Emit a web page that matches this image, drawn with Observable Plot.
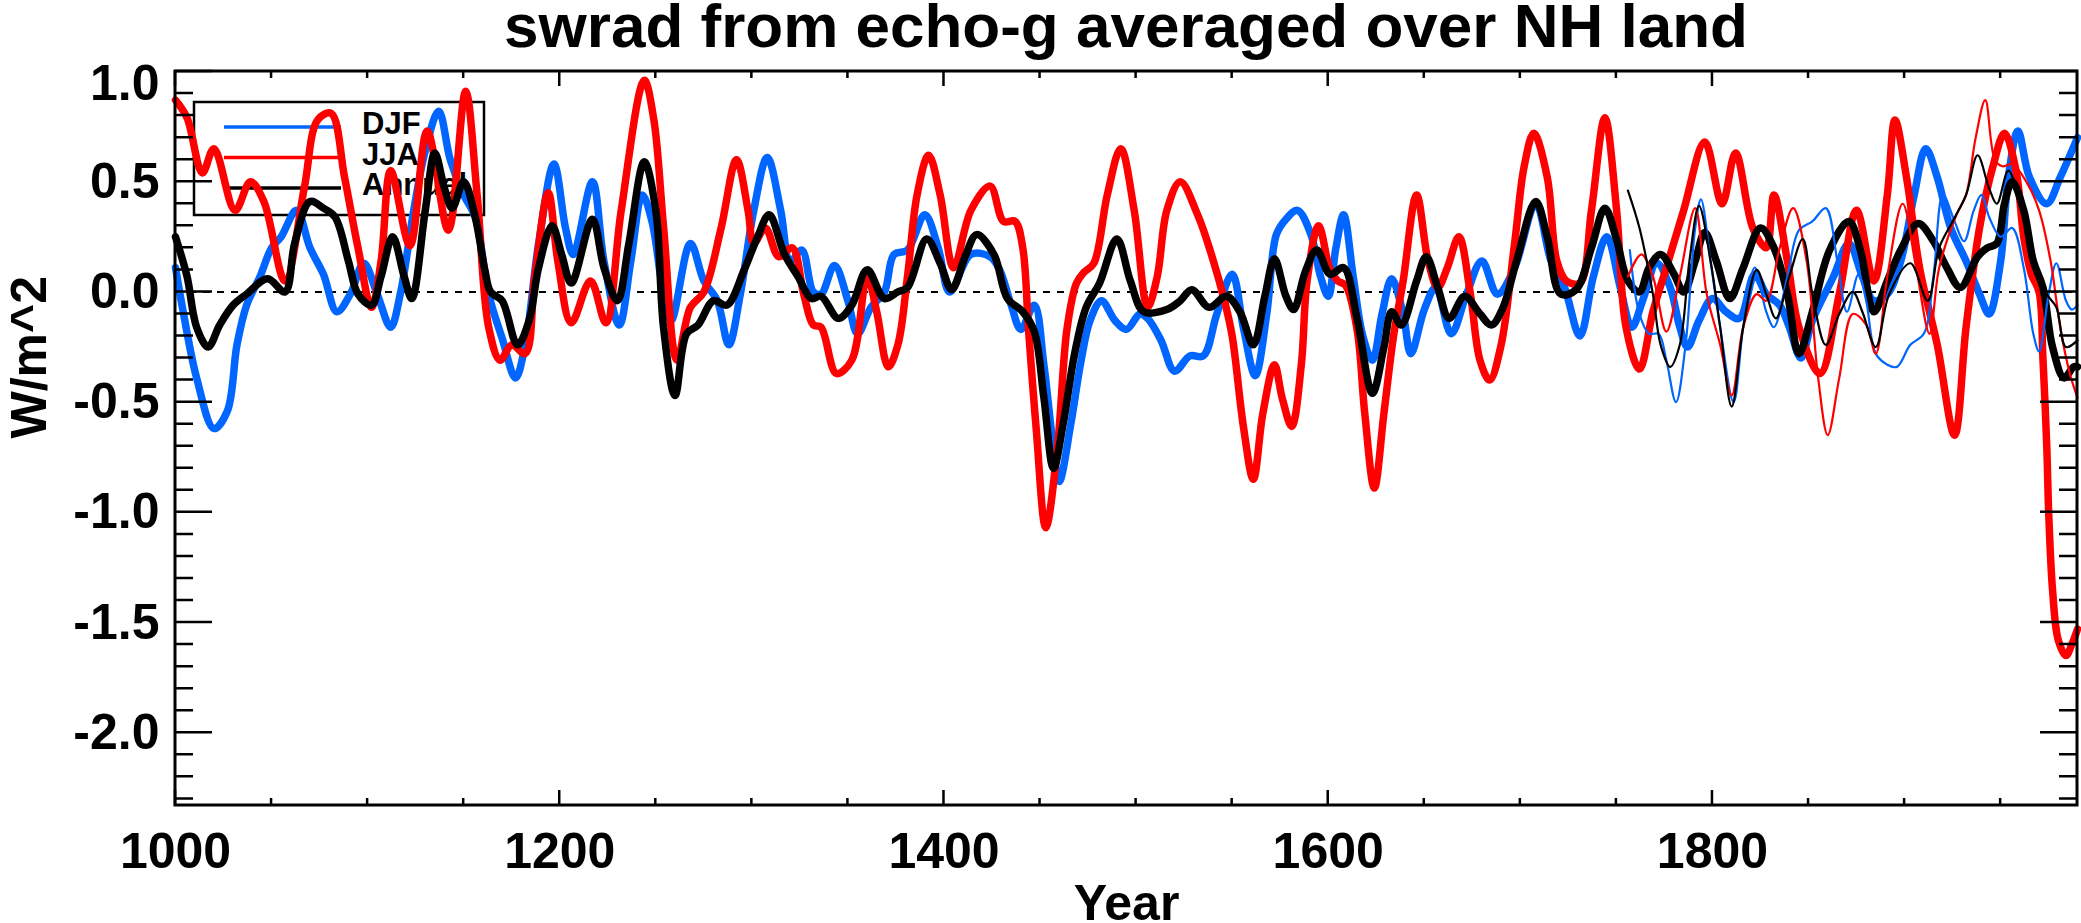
<!DOCTYPE html>
<html>
<head>
<meta charset="utf-8">
<script src="https://cdn.jsdelivr.net/npm/d3@7"></script>
<script src="https://cdn.jsdelivr.net/npm/@observablehq/plot@0.6"></script>
<style>
  html, body { margin: 0; padding: 0; background: #fff; }
  #wrap { width: 2081px; height: 923px; overflow: hidden; position: relative; }
  #title { height: 64px; width: 2081px; box-sizing: border-box; padding-left: 175px; padding-right: 4px; }
  #title span { display: block; position: relative; top: -5px; text-align: center;
    font: bold 62px "Liberation Sans", Arial, sans-serif; line-height: 62px; color: #000; white-space: nowrap; }
</style>
</head>
<body>
<div id="wrap">
  <div id="title"><span>swrad from echo-g averaged over NH land</span></div>
  <div id="chart"></div>
</div>
<script>
// ---- data: [year, value] ----
const djf = [[1000,0.11],[1004,-0.09],[1011,-0.39],[1020,-0.62],[1027,-0.54],[1032,-0.24],[1037,-0.06],[1044,0.07],[1050,0.20],[1055,0.25],[1063,0.37],[1070,0.20],[1077,0.08],[1084,-0.09],[1091,-0.01],[1098,0.13],[1105,-0.01],[1112,-0.16],[1117,-0.01],[1124,0.37],[1130,0.64],[1137,0.82],[1143,0.60],[1150,0.44],[1156,0.34],[1163,-0.01],[1170,-0.21],[1177,-0.39],[1182,-0.24],[1189,0.22],[1197,0.58],[1203,0.29],[1207,0.17],[1217,0.50],[1223,0.14],[1231,-0.15],[1237,0.14],[1243,0.44],[1248,0.32],[1254,-0.01],[1258,-0.13],[1268,0.22],[1275,0.05],[1282,-0.04],[1288,-0.24],[1294,-0.01],[1301,0.37],[1308,0.61],[1315,0.37],[1320,0.14],[1326,0.19],[1332,0.00],[1336,-0.01],[1343,0.12],[1350,-0.04],[1355,-0.19],[1362,-0.07],[1369,0.00],[1374,0.17],[1381,0.19],[1390,0.35],[1397,0.20],[1403,0.00],[1414,0.17],[1424,0.16],[1429,0.10],[1435,-0.06],[1440,-0.17],[1447,-0.06],[1452,-0.33],[1457,-0.71],[1460,-0.86],[1466,-0.60],[1471,-0.33],[1476,-0.13],[1482,-0.04],[1489,-0.13],[1495,-0.17],[1502,-0.10],[1506,-0.12],[1513,-0.22],[1520,-0.36],[1528,-0.29],[1535,-0.29],[1542,-0.10],[1550,0.08],[1556,-0.17],[1562,-0.38],[1568,-0.10],[1573,0.26],[1578,0.33],[1584,0.37],[1591,0.26],[1596,0.07],[1600,-0.02],[1604,0.20],[1608,0.35],[1613,0.07],[1618,-0.20],[1623,-0.31],[1628,-0.10],[1633,0.06],[1639,-0.10],[1643,-0.28],[1650,-0.08],[1656,0.02],[1664,-0.19],[1672,-0.01],[1680,0.14],[1688,-0.01],[1697,0.11],[1708,0.40],[1716,0.14],[1723,0.02],[1731,-0.20],[1738,0.07],[1745,0.25],[1752,0.02],[1758,-0.16],[1764,-0.03],[1771,0.13],[1778,0.02],[1783,-0.16],[1787,-0.25],[1793,-0.13],[1800,-0.03],[1807,-0.09],[1814,-0.12],[1822,0.08],[1828,-0.01],[1835,-0.06],[1840,-0.16],[1846,-0.30],[1852,-0.13],[1863,0.07],[1871,0.22],[1878,0.07],[1884,-0.04],[1891,-0.01],[1898,0.14],[1905,0.44],[1911,0.65],[1917,0.52],[1924,0.29],[1932,0.14],[1939,-0.01],[1944,-0.10],[1950,0.14],[1954,0.52],[1959,0.73],[1965,0.52],[1974,0.40],[1981,0.52],[1990,0.70]];

const jja = [[1000,0.87],[1006,0.79],[1014,0.54],[1020,0.65],[1031,0.37],[1039,0.50],[1046,0.41],[1057,0.05],[1067,0.47],[1074,0.78],[1081,0.81],[1088,0.52],[1095,0.20],[1102,-0.07],[1107,0.14],[1112,0.55],[1122,0.21],[1131,0.73],[1142,0.28],[1151,0.91],[1157,0.44],[1163,-0.16],[1169,-0.31],[1175,-0.24],[1182,-0.28],[1187,0.07],[1194,0.45],[1199,0.14],[1206,-0.14],[1216,0.05],[1224,-0.14],[1232,0.37],[1244,0.96],[1249,0.78],[1254,0.30],[1261,-0.31],[1268,-0.07],[1275,0.00],[1284,0.29],[1292,0.60],[1298,0.37],[1301,0.22],[1307,0.29],[1314,0.16],[1321,0.20],[1327,-0.01],[1332,-0.15],[1336,-0.16],[1344,-0.37],[1352,-0.31],[1360,0.07],[1365,-0.09],[1371,-0.34],[1376,-0.24],[1381,0.07],[1386,0.44],[1392,0.62],[1398,0.44],[1405,0.11],[1414,0.37],[1424,0.48],[1431,0.32],[1437,0.32],[1441,0.20],[1444,-0.17],[1448,-0.62],[1453,-1.07],[1459,-0.71],[1464,-0.17],[1469,0.04],[1473,0.09],[1478,0.13],[1485,0.44],[1492,0.65],[1499,0.37],[1506,-0.07],[1511,0.07],[1516,0.37],[1523,0.50],[1532,0.35],[1537,0.23],[1546,-0.04],[1550,-0.20],[1556,-0.62],[1561,-0.85],[1566,-0.55],[1572,-0.33],[1576,-0.48],[1581,-0.61],[1586,-0.33],[1589,0.05],[1595,0.30],[1601,0.10],[1605,0.05],[1609,0.03],[1615,-0.17],[1619,-0.55],[1624,-0.89],[1629,-0.55],[1634,-0.20],[1639,0.05],[1646,0.44],[1652,0.14],[1657,0.02],[1662,0.11],[1668,0.25],[1674,-0.01],[1679,-0.31],[1684,-0.40],[1690,-0.24],[1697,0.22],[1702,0.57],[1707,0.72],[1714,0.52],[1719,0.14],[1724,0.05],[1731,0.04],[1737,0.37],[1744,0.79],[1750,0.38],[1755,-0.16],[1762,-0.35],[1769,-0.09],[1776,0.11],[1785,0.37],[1796,0.68],[1805,0.40],[1812,0.63],[1821,0.29],[1828,0.20],[1832,0.44],[1839,0.14],[1845,-0.16],[1856,-0.37],[1866,-0.01],[1875,0.37],[1884,0.05],[1891,0.44],[1895,0.78],[1901,0.52],[1908,0.10],[1917,-0.24],[1926,-0.65],[1932,-0.16],[1939,0.29],[1946,0.57],[1952,0.72],[1958,0.55],[1962,0.25],[1966,0.08],[1970,0.00],[1972,-0.30],[1974,-0.70],[1975,-1.00],[1977,-1.35],[1980,-1.58],[1984,-1.65],[1987,-1.60],[1990,-1.53]];

const annual = [[1000,0.25],[1006,0.07],[1011,-0.16],[1017,-0.25],[1023,-0.15],[1030,-0.06],[1037,-0.01],[1048,0.06],[1057,0.00],[1062,0.22],[1070,0.41],[1077,0.38],[1083,0.34],[1090,0.14],[1095,-0.01],[1102,-0.06],[1107,0.07],[1113,0.25],[1119,0.07],[1123,-0.03],[1130,0.37],[1135,0.63],[1140,0.47],[1144,0.38],[1150,0.50],[1156,0.34],[1161,0.10],[1164,0.00],[1170,-0.04],[1178,-0.24],[1184,-0.13],[1189,0.11],[1196,0.30],[1201,0.17],[1206,0.04],[1217,0.33],[1223,0.11],[1230,-0.04],[1236,0.22],[1244,0.59],[1250,0.37],[1254,-0.16],[1260,-0.47],[1266,-0.19],[1272,-0.15],[1280,-0.04],[1287,-0.06],[1296,0.10],[1303,0.25],[1309,0.35],[1317,0.17],[1324,0.07],[1331,-0.03],[1336,-0.02],[1345,-0.12],[1352,-0.06],[1360,0.10],[1369,-0.03],[1376,0.00],[1381,0.02],[1391,0.24],[1398,0.13],[1404,0.01],[1411,0.16],[1417,0.26],[1426,0.17],[1433,-0.03],[1441,-0.09],[1447,-0.18],[1452,-0.48],[1457,-0.80],[1462,-0.60],[1468,-0.28],[1474,-0.07],[1481,0.04],[1490,0.24],[1497,0.05],[1504,-0.09],[1516,-0.08],[1523,-0.04],[1529,0.01],[1538,-0.07],[1547,-0.02],[1554,-0.09],[1561,-0.24],[1567,-0.02],[1572,0.15],[1578,-0.02],[1582,-0.08],[1588,0.09],[1594,0.19],[1601,0.08],[1608,0.11],[1615,-0.12],[1623,-0.46],[1629,-0.25],[1633,-0.09],[1638,-0.15],[1646,0.05],[1651,0.16],[1657,0.02],[1663,-0.12],[1671,-0.02],[1679,-0.10],[1685,-0.15],[1691,-0.07],[1698,0.14],[1708,0.41],[1714,0.25],[1721,-0.01],[1729,0.01],[1737,0.20],[1744,0.38],[1750,0.24],[1756,0.05],[1762,0.00],[1767,0.11],[1773,0.17],[1780,0.08],[1785,0.00],[1791,0.14],[1796,0.27],[1802,0.14],[1809,-0.03],[1816,0.11],[1825,0.29],[1832,0.20],[1839,-0.01],[1845,-0.28],[1852,-0.09],[1861,0.19],[1871,0.32],[1877,0.19],[1884,-0.09],[1891,0.05],[1898,0.19],[1907,0.31],[1915,0.23],[1922,0.11],[1929,0.02],[1938,0.16],[1943,0.20],[1948,0.22],[1952,0.40],[1956,0.50],[1962,0.37],[1967,0.14],[1972,0.02],[1977,-0.25],[1983,-0.39],[1988,-0.34],[1990,-0.34]];

// thin series (second record, from ~1756)
const djfThin = [[1757,0.19],[1762,-0.10],[1767,-0.19],[1772,-0.19],[1776,-0.31],[1781,-0.50],[1786,-0.24],[1791,0.29],[1794,0.42],[1799,0.14],[1804,-0.16],[1811,-0.50],[1816,-0.16],[1822,0.11],[1828,-0.09],[1832,-0.16],[1839,0.07],[1845,0.28],[1852,0.32],[1859,0.38],[1865,0.14],[1870,-0.09],[1876,0.08],[1880,-0.04],[1885,-0.28],[1891,-0.33],[1896,-0.34],[1903,-0.24],[1910,-0.19],[1915,0.07],[1920,0.44],[1926,0.32],[1931,0.23],[1936,0.37],[1940,0.44],[1944,0.34],[1950,0.25],[1956,0.29],[1962,0.11],[1967,-0.19],[1970,-0.27],[1975,-0.01],[1979,0.13],[1984,-0.04],[1987,-0.08],[1990,-0.06]];

const jjaThin = [[1756,0.07],[1763,0.17],[1769,0.07],[1776,-0.18],[1783,0.07],[1791,0.38],[1797,-0.01],[1804,-0.24],[1810,-0.47],[1816,-0.16],[1823,-0.01],[1828,-0.04],[1835,0.20],[1842,0.38],[1849,0.14],[1855,-0.39],[1860,-0.65],[1866,-0.39],[1873,-0.10],[1880,-0.15],[1885,-0.28],[1891,0.07],[1899,0.40],[1906,0.11],[1913,-0.19],[1918,0.11],[1927,0.35],[1932,0.44],[1937,0.70],[1942,0.87],[1947,0.60],[1951,0.57],[1956,0.58],[1964,0.49],[1970,0.37],[1976,0.14],[1981,-0.16],[1986,-0.37],[1990,-0.48]];

const annualThin = [[1756,0.46],[1762,0.29],[1769,-0.01],[1773,-0.24],[1778,-0.34],[1783,-0.24],[1788,0.14],[1793,0.39],[1799,0.14],[1804,-0.16],[1810,-0.52],[1816,-0.16],[1823,0.10],[1828,-0.01],[1833,-0.12],[1840,0.07],[1847,0.24],[1852,-0.01],[1859,-0.24],[1866,-0.10],[1873,0.00],[1878,-0.09],[1885,-0.25],[1892,-0.01],[1903,0.13],[1912,-0.04],[1918,0.20],[1925,0.32],[1932,0.44],[1938,0.62],[1944,0.47],[1948,0.40],[1954,0.55],[1960,0.41],[1967,0.14],[1974,-0.01],[1979,-0.07],[1984,-0.25],[1990,-0.22]];

// axes
const xDomain = [1000, 1990];
const yDomain = [-2.33, 1.0];
const xTickLabels = [1000, 1200, 1400, 1600, 1800];
const yTickLabels = [-2.0, -1.5, -1.0, -0.5, 0.0, 0.5];
const yTopLabel = [1.0];
const xMinorTicks = d3.range(1050, 1990, 50);
const yMinorTicks = d3.range(-23, 11).map(i => i / 10);
const legendItems = ["DJF", "JJA", "Annual"];
const colors = {DJF: "#0066ff", JJA: "#ff0000", Annual: "#000000"};

const FONT = "'Liberation Sans', Arial, Helvetica, sans-serif";

// frame with inward ticks on all four sides (IDL style)
function frameTicks(index, scales, values, dims) {
  const {x, y} = scales;
  const L = dims.marginLeft, R = dims.width - dims.marginRight;
  const T = dims.marginTop, B = dims.height - dims.marginBottom;
  let p = "";
  for (const v of yMinorTicks) {
    const major = Math.abs(v * 2 - Math.round(v * 2)) < 1e-6;
    const len = major ? 37 : 18;
    const yy = y(v);
    if (yy < T - 0.5 || yy > B + 0.5) continue;
    p += `M${L},${yy}h${len}M${R},${yy}h${-len}`;
  }
  for (const v of xTickLabels) {
    const xx = x(v);
    p += `M${xx},${B}v${-15}M${xx},${T}v${15}`;
  }
  for (const v of xMinorTicks) {
    if (xTickLabels.includes(v)) continue;
    const xx = x(v);
    p += `M${xx},${B}v${-7}M${xx},${T}v${7}`;
  }
  const g = d3.create("svg:g").attr("fill", "none").attr("stroke", "#000");
  g.append("path").attr("d", p).attr("stroke-width", 2.5);
  g.append("rect").attr("x", L).attr("y", T).attr("width", R - L).attr("height", B - T).attr("stroke-width", 3);
  return g.node();
}

// legend box (drawn before the data lines, as in the original)
function legend(index, scales, values, dims) {
  const L = dims.marginLeft, T = dims.marginTop;
  const g = d3.create("svg:g");
  g.append("rect").attr("x", L + 19).attr("y", T + 31).attr("width", 290).attr("height", 113)
    .attr("fill", "none").attr("stroke", "#000").attr("stroke-width", 2.5);
  legendItems.forEach((name, i) => {
    const yy = T + 56 + i * 30.5;
    g.append("line").attr("x1", L + 49).attr("x2", L + 166).attr("y1", yy).attr("y2", yy)
      .attr("stroke", colors[name]).attr("stroke-width", 3.5);
    g.append("text").attr("x", L + 187).attr("y", yy + 7).text(name)
      .attr("text-anchor", "start")
      .attr("font-family", FONT).attr("font-weight", "bold").attr("font-size", 31).attr("fill", "#000");
  });
  return g.node();
}

const lineOpts = (c, w) => ({x: d => d[0], y: d => d[1], stroke: c, strokeWidth: w, curve: "catmull-rom", strokeLinejoin: "round", strokeLinecap: "round"});

const chart = Plot.plot({
  width: 2081,
  height: 859,
  marginLeft: 175,
  marginRight: 4,
  marginTop: 7,
  marginBottom: 118,
  x: {domain: xDomain},
  y: {domain: yDomain},
  style: {fontFamily: FONT, fontWeight: "bold", background: "#fff", overflow: "visible", color: "#000"},
  marks: [
    Plot.axisX(xTickLabels, {anchor: "bottom", tickSize: 0, tickPadding: 27, fontSize: 50, fontWeight: "bold", tickFormat: d => String(d), label: null}),
    Plot.axisY(yTickLabels, {anchor: "left", tickSize: 0, tickPadding: 16, fontSize: 50, fontWeight: "bold", tickFormat: d => d.toFixed(1), label: null}),
    Plot.axisY(yTopLabel, {anchor: "left", tickSize: 0, tickPadding: 16, fontSize: 50, fontWeight: "bold", dy: 12, tickFormat: d => d.toFixed(1), label: null}),
    Plot.ruleY([0], {stroke: "#000", strokeWidth: 2, strokeDasharray: "7,7"}),
    legend,
    Plot.line(djf, lineOpts(colors.DJF, 7.5)),
    Plot.line(jja, lineOpts(colors.JJA, 7.5)),
    Plot.line(annual, lineOpts(colors.Annual, 7.5)),
    Plot.line(djfThin, lineOpts(colors.DJF, 2.2)),
    Plot.line(jjaThin, lineOpts(colors.JJA, 2.2)),
    Plot.line(annualThin, lineOpts(colors.Annual, 2.2)),
    frameTicks,
    Plot.text(["Year"], {text: d => d, frameAnchor: "bottom", dy: 98, fontSize: 50, fontWeight: "bold", lineAnchor: "middle", fill: "#000"}),
    Plot.text(["W/m^2"], {text: d => d, frameAnchor: "left", dx: -146, rotate: -90, fontSize: 50, fontWeight: "bold", lineAnchor: "middle", fill: "#000"})
  ]
});
document.getElementById("chart").appendChild(chart);
</script>
</body>
</html>
